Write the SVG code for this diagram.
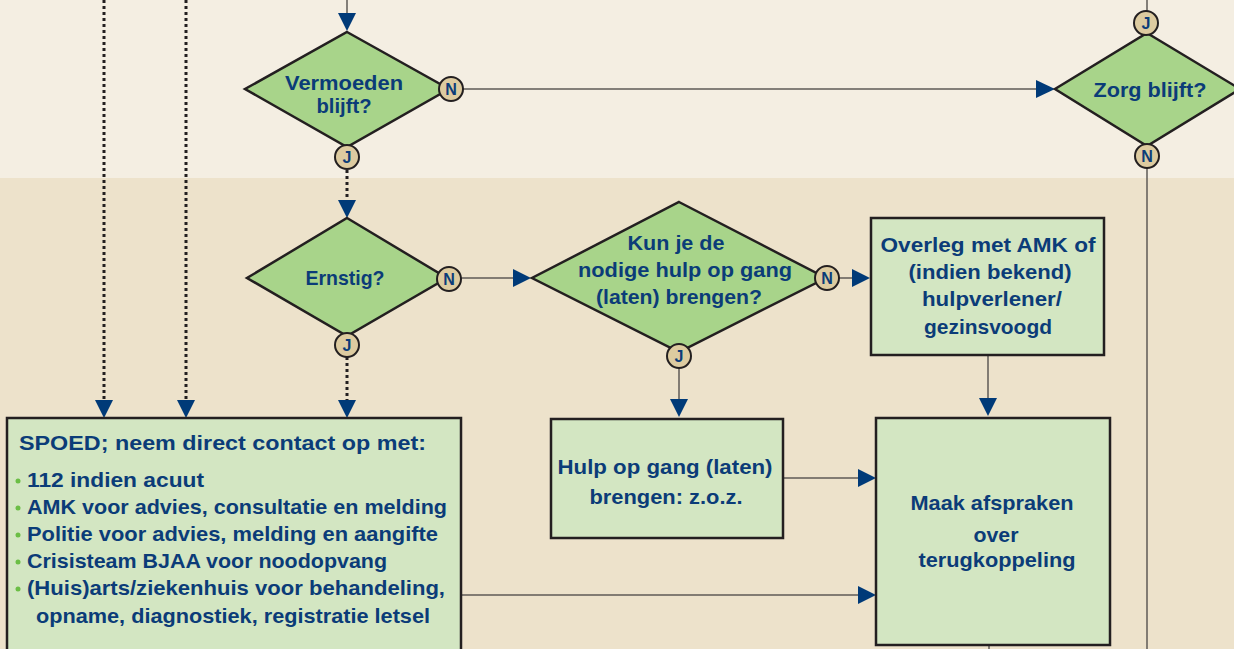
<svg xmlns="http://www.w3.org/2000/svg" width="1234" height="649" viewBox="0 0 1234 649">
<style>
.t{font-family:"Liberation Sans",Arial,sans-serif;font-weight:bold;font-size:21px;fill:#0B3C78;text-anchor:middle}
.tl{text-anchor:start}
.dia{fill:#A8D48A;stroke:#231F20;stroke-width:2.5;stroke-linejoin:miter}
.box{fill:#D3E6C2;stroke:#231F20;stroke-width:2.5}
.jn{fill:#DDCBA0;stroke:#231F20;stroke-width:2}
.jt{font-family:"Liberation Sans",Arial,sans-serif;font-weight:bold;font-size:16px;fill:#0B3C78;text-anchor:middle}
.ln{stroke:#5E5A56;stroke-width:1.5;fill:none}
.dot{stroke:#231F20;stroke-width:3;stroke-dasharray:3 3;fill:none}
.ar{fill:#003A78}
.bul{fill:#6BBE45}
</style>
<rect x="0" y="0" width="1234" height="178" fill="#F4EEE2"/>
<rect x="0" y="178" width="1234" height="471" fill="#EDE2CB"/>
<g id="connectors">
<line class="dot" x1="104" y1="0" x2="104" y2="400"/>
<line class="dot" x1="186" y1="0" x2="186" y2="400"/>
<line class="ln" x1="347" y1="0" x2="347" y2="14"/>
<line class="ln" x1="463" y1="89" x2="1040" y2="89"/>
<line class="ln" x1="1147" y1="0" x2="1147" y2="11"/>
<line class="ln" x1="1147" y1="168" x2="1147" y2="649"/>
<line class="dot" x1="347" y1="170" x2="347" y2="200"/>
<line class="ln" x1="461" y1="278" x2="514" y2="278"/>
<line class="dot" x1="347" y1="357" x2="347" y2="400"/>
<line class="ln" x1="839" y1="278" x2="853" y2="278"/>
<line class="ln" x1="679" y1="368" x2="679" y2="399"/>
<line class="ln" x1="988" y1="355" x2="988" y2="399"/>
<line class="ln" x1="783" y1="478" x2="859" y2="478"/>
<line class="ln" x1="461" y1="595" x2="859" y2="595"/>
<line class="ln" x1="989" y1="645" x2="989" y2="649"/>
<polygon class="ar" points="95,400 113,400 104,418"/>
<polygon class="ar" points="177,400 195,400 186,418"/>
<polygon class="ar" points="338,13 356,13 347,31"/>
<polygon class="ar" points="1036,80 1036,98 1055,89"/>
<polygon class="ar" points="338,200 356,200 347,218"/>
<polygon class="ar" points="513,269 513,287 531,278"/>
<polygon class="ar" points="338,400 356,400 347,418"/>
<polygon class="ar" points="852,269 852,287 870,278"/>
<polygon class="ar" points="670,399 688,399 679,417"/>
<polygon class="ar" points="979,398 997,398 988,416"/>
<polygon class="ar" points="858,469 858,487 876,478"/>
<polygon class="ar" points="858,586 858,604 876,595"/>
</g>
<g id="vermoeden">
<polygon class="dia" points="347,32 449,89 347,147 245,89"/>
<text class="t" x="344" y="90" textLength="118" lengthAdjust="spacingAndGlyphs">Vermoeden</text>
<text class="t" x="344" y="113" textLength="55" lengthAdjust="spacingAndGlyphs">blijft?</text>
<circle class="jn" cx="451" cy="89" r="12"/>
<text class="jt" x="451" y="95">N</text>
<circle class="jn" cx="347" cy="157" r="12"/>
<text class="jt" x="347" y="163">J</text>
</g>
<g id="zorg">
<polygon class="dia" points="1147,33 1240,89 1147,146 1055,89"/>
<text class="t" x="1150" y="97" textLength="113" lengthAdjust="spacingAndGlyphs">Zorg blijft?</text>
<circle class="jn" cx="1146" cy="23" r="12"/>
<text class="jt" x="1146" y="29">J</text>
<circle class="jn" cx="1147" cy="156" r="12"/>
<text class="jt" x="1147" y="162">N</text>
</g>
<g id="ernstig">
<polygon class="dia" points="347,218 447,278 347,336 247,278"/>
<text class="t" x="345" y="285" textLength="79" lengthAdjust="spacingAndGlyphs">Ernstig?</text>
<circle class="jn" cx="449" cy="279" r="12"/>
<text class="jt" x="449" y="285">N</text>
<circle class="jn" cx="347" cy="345" r="12"/>
<text class="jt" x="347" y="351">J</text>
</g>
<g id="kunje">
<polygon class="dia" points="679,202 826,278 679,352 532,278"/>
<text class="t" x="676" y="250" textLength="97" lengthAdjust="spacingAndGlyphs">Kun je de</text>
<text class="t" x="685" y="277" textLength="214" lengthAdjust="spacingAndGlyphs">nodige hulp op gang</text>
<text class="t" x="679" y="304" textLength="166" lengthAdjust="spacingAndGlyphs">(laten) brengen?</text>
<circle class="jn" cx="827" cy="278" r="12"/>
<text class="jt" x="827" y="284">N</text>
<circle class="jn" cx="679" cy="356" r="12"/>
<text class="jt" x="679" y="362">J</text>
</g>
<g id="overleg">
<rect class="box" x="871" y="218" width="233" height="137"/>
<text class="t" x="988" y="252" textLength="215" lengthAdjust="spacingAndGlyphs">Overleg met AMK of</text>
<text class="t" x="990" y="279" textLength="163" lengthAdjust="spacingAndGlyphs">(indien bekend)</text>
<text class="t" x="992" y="306" textLength="140" lengthAdjust="spacingAndGlyphs">hulpverlener/</text>
<text class="t" x="988" y="334" textLength="128" lengthAdjust="spacingAndGlyphs">gezinsvoogd</text>
</g>
<g id="hulp">
<rect class="box" x="551" y="419" width="232" height="119"/>
<text class="t" x="665" y="474" textLength="215" lengthAdjust="spacingAndGlyphs">Hulp op gang (laten)</text>
<text class="t" x="666" y="504" textLength="153" lengthAdjust="spacingAndGlyphs">brengen: z.o.z.</text>
</g>
<g id="maak">
<rect class="box" x="876" y="418" width="234" height="227"/>
<text class="t" x="992" y="510" textLength="163" lengthAdjust="spacingAndGlyphs">Maak afspraken</text>
<text class="t" x="996" y="542" textLength="45" lengthAdjust="spacingAndGlyphs">over</text>
<text class="t" x="997" y="567" textLength="157" lengthAdjust="spacingAndGlyphs">terugkoppeling</text>
</g>
<g id="spoed">
<rect class="box" x="7" y="418" width="454" height="240"/>
<text class="t tl" x="19" y="450" textLength="407" lengthAdjust="spacingAndGlyphs">SPOED; neem direct contact op met:</text>
<circle class="bul" cx="18" cy="481" r="2.5"/>
<circle class="bul" cx="18" cy="508" r="2.5"/>
<circle class="bul" cx="18" cy="535" r="2.5"/>
<circle class="bul" cx="18" cy="562" r="2.5"/>
<circle class="bul" cx="18" cy="589" r="2.5"/>
<text class="t tl" x="27" y="487" textLength="177" lengthAdjust="spacingAndGlyphs">112 indien acuut</text>
<text class="t tl" x="27" y="514" textLength="420" lengthAdjust="spacingAndGlyphs">AMK voor advies, consultatie en melding</text>
<text class="t tl" x="27" y="541" textLength="411" lengthAdjust="spacingAndGlyphs">Politie voor advies, melding en aangifte</text>
<text class="t tl" x="27" y="568" textLength="360" lengthAdjust="spacingAndGlyphs">Crisisteam BJAA voor noodopvang</text>
<text class="t tl" x="27" y="595" textLength="418" lengthAdjust="spacingAndGlyphs">(Huis)arts/ziekenhuis voor behandeling,</text>
<text class="t tl" x="36" y="623" textLength="394" lengthAdjust="spacingAndGlyphs">opname, diagnostiek, registratie letsel</text>
</g>
</svg>
